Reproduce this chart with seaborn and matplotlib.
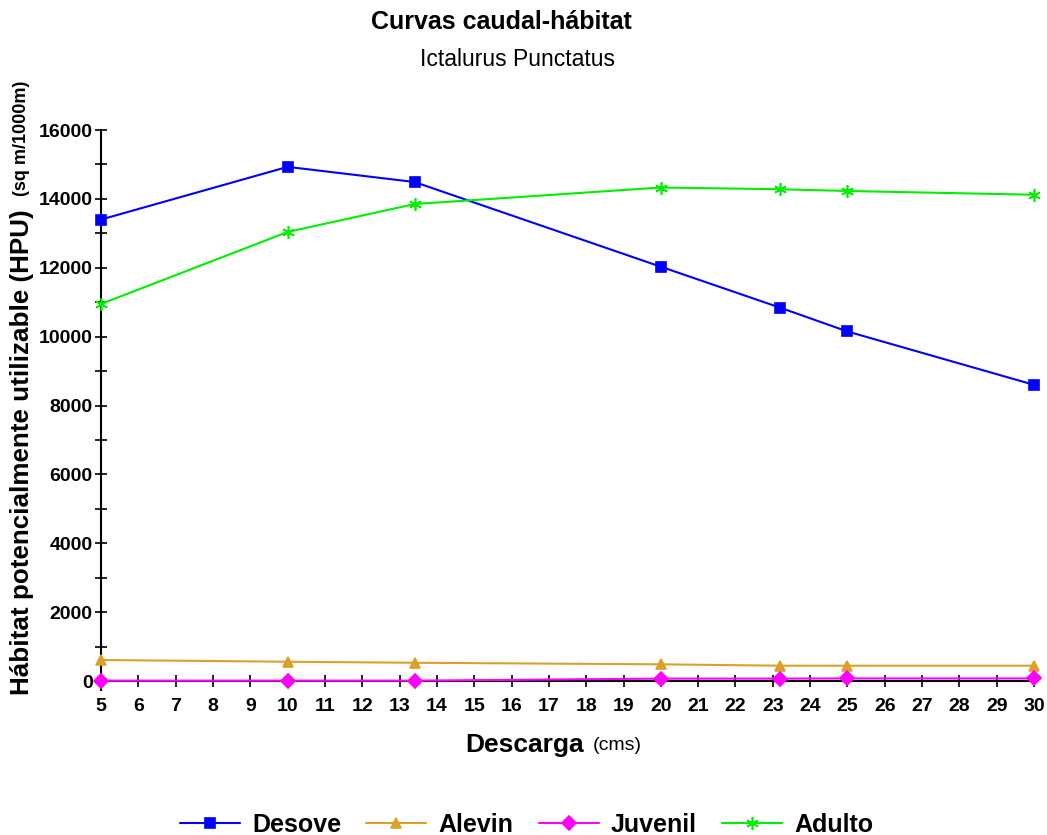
import numpy as np
import pandas as pd
import matplotlib
matplotlib.use('Agg')
import matplotlib.pyplot as plt
import seaborn as sns
from matplotlib.ticker import MultipleLocator

# Datos de las curvas caudal-hábitat
descarga = [5, 10, 13.4, 20, 23.2, 25, 30]
desove = [13400, 14930, 14490, 12030, 10840, 10150, 8600]
alevin = [610, 560, 530, 485, 445, 445, 445]
juvenil = [10, 10, 10, 70, 70, 75, 75]
adulto = [10950, 13040, 13850, 14330, 14280, 14230, 14120]

series = ['Desove', 'Alevin', 'Juvenil', 'Adulto']
valores = [desove, alevin, juvenil, adulto]
colores = ['#0000FF', '#DAA02A', '#FF00FF', '#00EE00']
marcadores = ['s', '^', 'D', (6, 2, 0)]
tamanos = [7.5, 7.5, 7.5, 9]

sns.set_style('white')
plt.rcParams['font.family'] = ['Liberation Sans', 'DejaVu Sans']
plt.rcParams['text.color'] = 'black'
plt.rcParams['xtick.color'] = 'black'
plt.rcParams['ytick.color'] = 'black'

fig = plt.figure(figsize=(10.47, 8.35), dpi=100)
ax = fig.add_axes([0.0965, 0.1741, 0.8911, 0.6702])

for nombre, vals, col, mk, ms in zip(series, valores, colores, marcadores, tamanos):
    sns.lineplot(x=descarga, y=vals, ax=ax, color=col, marker=mk, markersize=ms,
                 markeredgecolor=col, markeredgewidth=1.2, linewidth=1.5, label=nombre,
                 clip_on=False, zorder=3)

ax.set_xlim(5, 30)
ax.set_ylim(-250, 16000)
ax.xaxis.set_major_locator(MultipleLocator(1))
ax.yaxis.set_major_locator(MultipleLocator(2000))
ax.yaxis.set_minor_locator(MultipleLocator(1000))

for s in ['top', 'right']:
    ax.spines[s].set_visible(False)
ax.spines['bottom'].set_position(('data', 0))
for s in ['left', 'bottom']:
    ax.spines[s].set_color('black')
    ax.spines[s].set_linewidth(1.5)
    ax.spines[s].set_zorder(2)

ax.tick_params(axis='both', which='both', direction='inout', length=8, width=1.2,
               color='black', bottom=True, left=True)
ax.tick_params(axis='x', pad=8, labelsize=14, labelcolor='black')
ax.tick_params(axis='y', pad=2, labelsize=14, labelcolor='black')
for lb in ax.get_xticklabels() + ax.get_yticklabels():
    lb.set_fontweight('bold')
ax.set_xlabel('')
ax.set_ylabel('')
ax.grid(False)
ax.get_legend().remove()

# Títulos
fig.text(0.479, 1 - 22 / 835, 'Curvas caudal-hábitat', ha='center', va='center',
         fontsize=18, fontweight='bold')
fig.text(0.494, 1 - 60 / 835, 'Ictalurus Punctatus', ha='center', va='center', fontsize=16.5)

# Etiquetas de ejes
fig.text(0.444, 1 - 745 / 835, 'Descarga', ha='left', va='center', fontsize=19, fontweight='bold')
fig.text(0.566, 1 - 745 / 835, '(cms)', ha='left', va='center', fontsize=14)
fig.text(0.021, 1 - 695 / 835, 'Hábitat potencialmente utilizable (HPU)', rotation=90,
         ha='center', va='bottom', fontsize=18.7, fontweight='bold')
fig.text(0.021, 1 - 196 / 835, '(sq m/1000m)', rotation=90,
         ha='center', va='bottom', fontsize=13, fontweight='bold')

handles, labels = ax.get_legend_handles_labels()
fig.legend(handles, labels, loc='center', bbox_to_anchor=(0.503, 1 - 825 / 835), ncol=4,
           frameon=False, prop={'weight': 'bold', 'size': 18}, handlelength=2.4,
           handletextpad=0.5, columnspacing=1.0)

fig.savefig('out.png', dpi=100, facecolor='white')
